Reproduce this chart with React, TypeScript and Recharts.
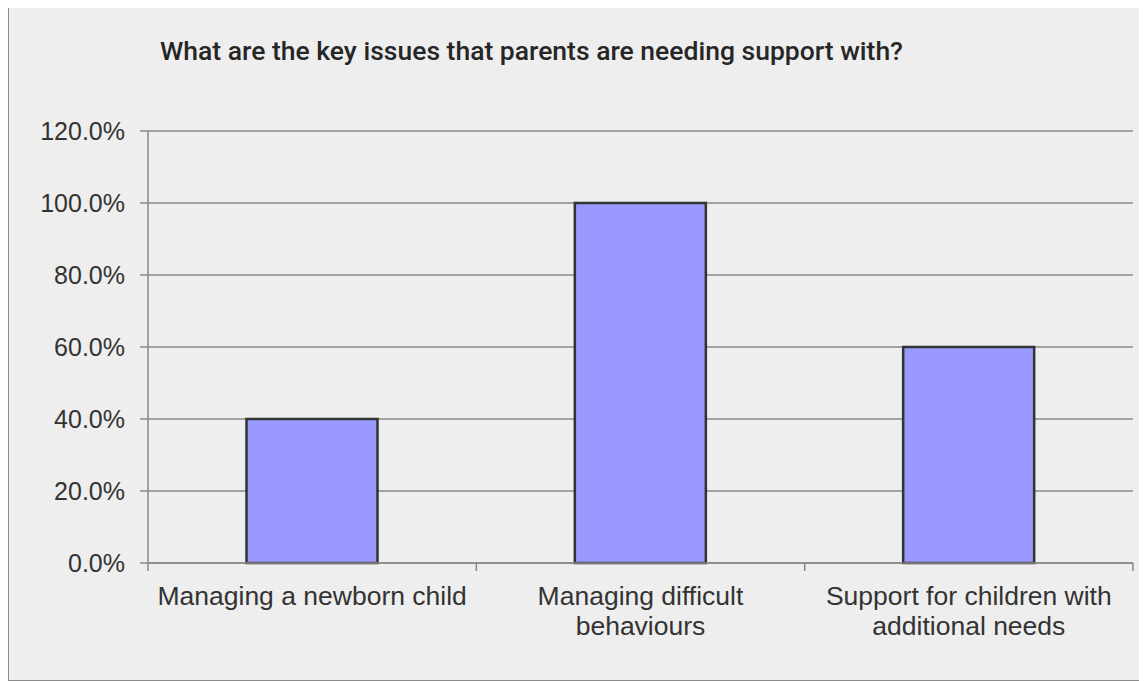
import { FC } from 'react';
import { Bar, BarChart, CartesianGrid, XAxis, YAxis } from 'recharts';

const categories = [
    'Managing a newborn child',
    'Managing difficult behaviours',
    'Support for children with additional needs',
];
// wrapped tick label lines, same order as categories
const categoryLines = [
    ['Managing a newborn child'],
    ['Managing difficult', 'behaviours'],
    ['Support for children with', 'additional needs'],
];
const shares = [0.4, 1.0, 0.6];
const yTicks = [0, 0.2, 0.4, 0.6, 0.8, 1.0, 1.2];
const title = 'What are the key issues that parents are needing support with?';

const data = categories.map((name, i) => ({ name, value: shares[i] }));

const FONT = '"Liberation Sans", Arial, sans-serif';
const TICK_SIZE = 8;
const TICK_MARGIN = 15;
const AXIS_GRAY = '#888';

// category label plus the small marks between categories (Excel style)
const CategoryTick: FC<any> = ({ x, y, payload, index, width }) => {
    const idx = categories.indexOf(payload.value);
    const lines = categoryLines[idx] ?? [payload.value];
    const band = typeof width === 'number' ? width / categories.length : 0;
    const axisY = y - TICK_SIZE - TICK_MARGIN;
    const marks = band ? [x - band / 2] : [];
    if (band && index === categories.length - 1) marks.push(x + band / 2);
    return (
        <g>
            {marks.map((mx, i) => (
                <line
                    key={i}
                    x1={mx}
                    x2={mx}
                    y1={axisY}
                    y2={axisY + TICK_SIZE}
                    stroke={AXIS_GRAY}
                    strokeWidth={1.5}
                />
            ))}
            <text
                x={x}
                y={y}
                textAnchor='middle'
                fill='#333'
                style={{ fontSize: 26.5, fontFamily: FONT }}
            >
                {lines.map((line, i) => (
                    <tspan key={i} x={x} dy={i === 0 ? 19 : 29.5}>
                        {line}
                    </tspan>
                ))}
            </text>
        </g>
    );
};

export default function App() {
    return (
        <div
            style={{
                width: 1139,
                height: 674,
                marginTop: -1,
                border: '1px solid #8c8c8c',
                background: '#eeeeee',
                boxSizing: 'border-box',
                position: 'relative',
            }}
        >
            <div
                style={{
                    position: 'absolute',
                    left: 151,
                    top: 30,
                    fontFamily: 'Roboto, sans-serif',
                    fontWeight: 500,
                    fontSize: 26.5,
                    lineHeight: 1,
                    color: '#262626',
                    whiteSpace: 'nowrap',
                }}
            >
                {title}
            </div>
            <BarChart
                width={1137}
                height={664}
                data={data}
                barCategoryGap='30%'
                margin={{ top: 123, right: 13, left: 0, bottom: 0 }}
            >
                <CartesianGrid vertical={false} stroke={AXIS_GRAY} strokeWidth={1.5} />
                <XAxis
                    dataKey='name'
                    type='category'
                    height={109}
                    interval={0}
                    tickLine={false}
                    axisLine={{ stroke: AXIS_GRAY, strokeWidth: 1.5 }}
                    tickSize={TICK_SIZE}
                    tickMargin={TICK_MARGIN}
                    tick={<CategoryTick />}
                />
                <YAxis
                    width={139}
                    domain={[0, 1.2]}
                    ticks={yTicks}
                    tickSize={TICK_SIZE}
                    tickMargin={15}
                    tickFormatter={(v: number) => `${(v * 100).toFixed(1)}%`}
                    tick={{ fill: '#333', fontSize: 25, fontFamily: FONT }}
                    tickLine={{ stroke: AXIS_GRAY, strokeWidth: 1.5 }}
                    axisLine={{ stroke: AXIS_GRAY, strokeWidth: 1.5 }}
                />
                <Bar
                    dataKey='value'
                    fill='#9999ff'
                    stroke='#333'
                    strokeWidth={2.5}
                    isAnimationActive={false}
                />
            </BarChart>
        </div>
    );
}
